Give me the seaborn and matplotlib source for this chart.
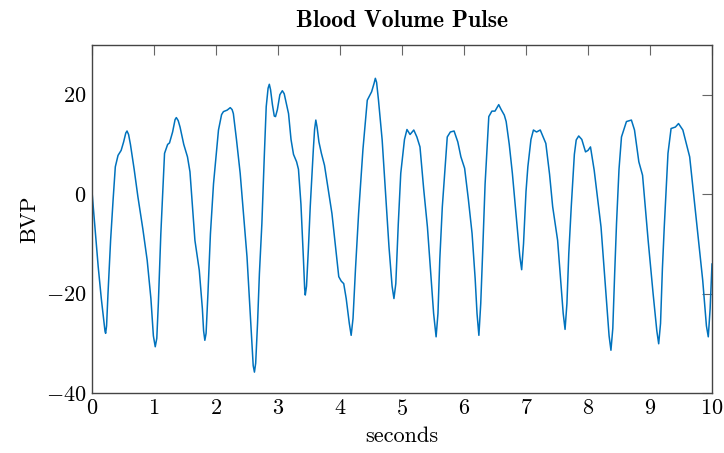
import matplotlib
matplotlib.use("Agg")
import matplotlib.pyplot as plt
import seaborn as sns
import pandas as pd

t = [0.00, 0.05, 0.10, 0.15, 0.19, 0.21, 0.22, 0.235, 0.258, 0.28, 0.30, 0.34, 0.376, 0.42, 0.47, 0.51, 0.545,
     0.565, 0.59, 0.62, 0.68, 0.74, 0.82, 0.89, 0.95, 0.99, 1.02, 1.045, 1.07, 1.11, 1.17, 1.22, 1.25,
     1.30, 1.34, 1.36, 1.39, 1.42, 1.48, 1.54, 1.58, 1.66, 1.73, 1.78, 1.80, 1.82, 1.84, 1.87, 1.91,
     1.96, 2.04, 2.09, 2.12, 2.18, 2.23, 2.26, 2.28, 2.33, 2.39, 2.50, 2.57, 2.60, 2.62, 2.64, 2.67,
     2.70, 2.74, 2.78, 2.81, 2.84, 2.86, 2.88, 2.91, 2.94, 2.96, 2.99, 3.03, 3.07, 3.10, 3.13, 3.17,
     3.21, 3.25, 3.30, 3.33, 3.37, 3.41, 3.43, 3.44, 3.46, 3.49, 3.52, 3.57, 3.59, 3.61, 3.63, 3.66,
     3.70, 3.75, 3.87, 3.98, 4.02, 4.06, 4.10, 4.15, 4.18, 4.21, 4.25, 4.30, 4.37, 4.44, 4.51, 4.55,
     4.57, 4.59, 4.62, 4.68, 4.79, 4.84, 4.87, 4.90, 4.94, 4.98, 5.04, 5.08, 5.13, 5.19, 5.24, 5.29,
     5.35, 5.41, 5.46, 5.51, 5.55, 5.58, 5.61, 5.65, 5.73, 5.78, 5.84, 5.90, 5.95, 6.01, 6.07, 6.13,
     6.18, 6.21, 6.24, 6.27, 6.30, 6.34, 6.40, 6.45, 6.50, 6.56, 6.60, 6.65, 6.68, 6.73, 6.78, 6.86,
     6.90, 6.93, 6.96, 7.00, 7.03, 7.08, 7.12, 7.17, 7.23, 7.32, 7.38, 7.43, 7.51, 7.57, 7.60, 7.63,
     7.66, 7.69, 7.73, 7.78, 7.81, 7.85, 7.90, 7.96, 8.00, 8.04, 8.10, 8.21, 8.29, 8.34, 8.37, 8.40,
     8.43, 8.46, 8.50, 8.54, 8.62, 8.70, 8.75, 8.82, 8.88, 8.97, 9.05, 9.11, 9.14, 9.17, 9.20, 9.23,
     9.29, 9.34, 9.41, 9.46, 9.53, 9.64, 9.77, 9.85, 9.91, 9.94, 9.97, 10.00]

bvp = [0.5, -7.0, -14.6, -21.0, -25.5, -27.6, -28.0, -26.5, -20.0, -14.5, -9.3, -1.2, 5.5, 7.8, 8.8, 10.5, 12.3,
       12.7, 12.0, 10.0, 5.0, -0.5, -7.0, -13.3, -21.0, -28.5, -30.7, -29.0, -22.0, -8.0, 8.2, 10.0, 10.3,
       12.5, 15.0, 15.4, 14.8, 13.5, 10.0, 7.5, 4.5, -9.3, -15.3, -23.0, -27.5, -29.4, -28.0, -20.0, -8.0,
       2.1, 12.9, 16.0, 16.6, 16.9, 17.4, 17.0, 16.2, 11.0, 4.2, -12.6, -28.0, -34.5, -35.8, -34.0, -26.0,
       -16.0, -5.9, 8.0, 17.6, 21.3, 22.1, 21.0, 18.0, 15.7, 15.6, 17.0, 20.0, 20.8, 20.2, 18.5, 16.2,
       11.0, 8.0, 6.5, 5.0, -2.0, -13.0, -19.0, -20.3, -18.5, -11.0, -2.5, 9.0, 13.0, 14.9, 13.5, 10.5,
       8.2, 5.8, -3.9, -16.6, -17.5, -18.0, -21.0, -26.0, -28.4, -25.0, -15.0, -3.9, 9.0, 18.9, 20.6, 22.3,
       23.3, 22.5, 19.0, 10.9, -10.6, -18.5, -21.0, -18.0, -6.0, 4.2, 11.0, 13.0, 12.0, 12.9, 11.5, 9.5,
       1.0, -6.6, -15.3, -24.0, -28.7, -24.0, -13.0, -2.6, 11.5, 12.5, 12.7, 10.5, 7.5, 5.2, -1.0, -7.9,
       -17.0, -24.0, -28.4, -22.0, -12.0, 2.0, 15.6, 16.7, 16.7, 18.0, 17.0, 15.9, 14.6, 10.0, 4.2, -7.0,
       -12.5, -15.2, -10.0, 0.5, 5.5, 11.0, 12.9, 12.5, 12.9, 10.2, 4.0, -2.5, -9.3, -19.0, -24.0, -27.2,
       -22.0, -12.0, -2.5, 8.0, 10.9, 11.7, 11.0, 8.5, 8.8, 9.5, 4.8, -6.6, -20.0, -28.5, -31.4, -27.0,
       -16.0, -5.9, 5.0, 11.5, 14.6, 14.9, 12.9, 6.5, 3.8, -9.3, -20.0, -27.5, -30.1, -26.0, -15.0, -6.6,
       8.2, 13.2, 13.5, 14.2, 12.9, 7.5, -7.9, -17.3, -26.5, -28.7, -23.0, -14.0]

x_ticks = [0, 1, 2, 3, 4, 5, 6, 7, 8, 9, 10]
y_ticks = [-40, -20, 0, 20]

sns.set_theme(style="white")
plt.rcParams["mathtext.fontset"] = "cm"
plt.rcParams["axes.formatter.use_mathtext"] = True
plt.rcParams["font.family"] = ["cmr10", "DejaVu Serif"]
plt.rcParams["axes.unicode_minus"] = True
plt.rcParams["text.color"] = "black"
plt.rcParams["axes.labelcolor"] = "black"
plt.rcParams["xtick.color"] = "black"
plt.rcParams["ytick.color"] = "black"

df = pd.DataFrame({"seconds": t, "BVP": bvp})

fig = plt.figure(figsize=(7.24, 4.53), dpi=100)
ax = fig.add_axes([92 / 724, 1 - 393 / 453, 620 / 724, 348 / 453])
sns.lineplot(data=df, x="seconds", y="BVP", ax=ax, color="#0072bd", linewidth=1.1)

ax.set_xlim(0, 10)
ax.set_ylim(-40, 30)
ax.set_xticks(x_ticks)
ax.set_yticks(y_ticks)
ax.tick_params(direction="in", length=7, width=0.8,
               top=True, right=True, labelsize=16, pad=4)
for tl in ax.get_xticklines() + ax.get_yticklines():
    tl.set_markeredgecolor("#666666")
for s in ax.spines.values():
    s.set_color("#444444")
    s.set_linewidth(1.0)
ax.set_xlabel("seconds", fontsize=16, labelpad=6)
ax.set_ylabel("BVP", fontsize=16, labelpad=5)
ax.set_title("Blood Volume Pulse", fontsize=17, fontfamily="cmb10", pad=13)

fig.savefig("out.png", dpi=100)
